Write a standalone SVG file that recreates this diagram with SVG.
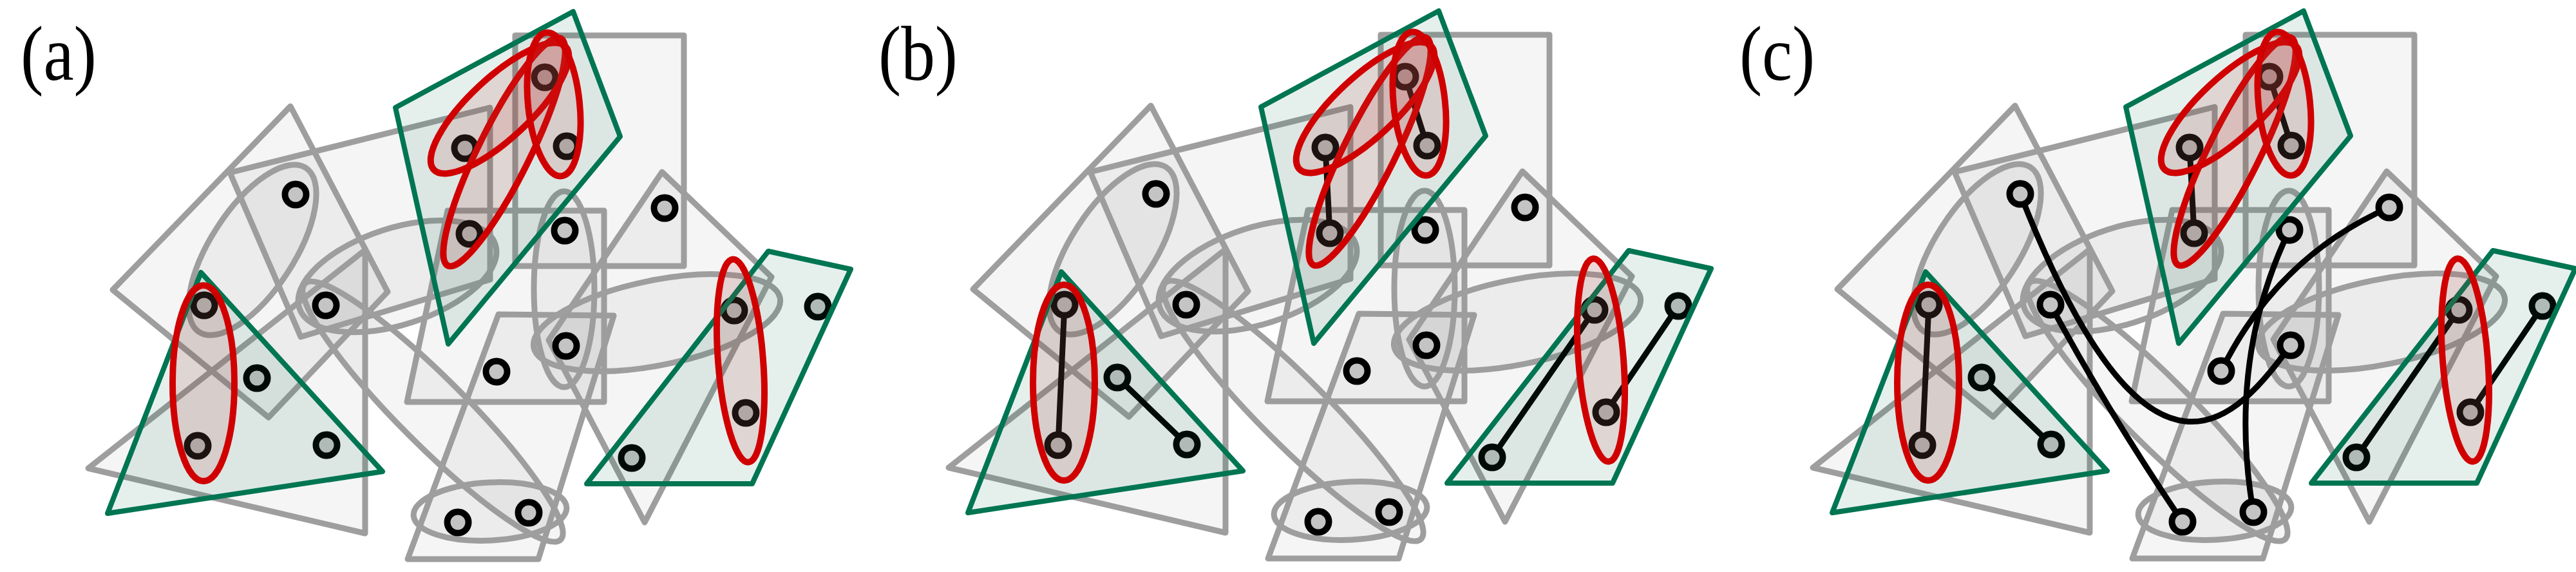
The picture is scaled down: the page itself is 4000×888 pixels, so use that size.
<svg xmlns="http://www.w3.org/2000/svg" width="4000" height="888" viewBox="0 0 4000 888">
<style>
.g{fill:rgb(158,158,158);fill-opacity:0.1;stroke:#9e9e9e;stroke-width:9;stroke-linejoin:round}
.gr{fill:rgb(0,112,80);fill-opacity:0.1;stroke:#007552;stroke-width:8;stroke-linejoin:round}
.r{fill:rgb(190,60,60);fill-opacity:0.15;stroke:#d00000;stroke-width:10}
.nd{fill:#c4c4c4;stroke:#000;stroke-width:10}
.e{fill:none;stroke:#000;stroke-width:9;stroke-linecap:round}
.lbl{font-family:"Liberation Serif","Times New Roman",serif;font-size:120px;fill:#000}
</style>
<defs>
<g id="grayBase">
<polygon class="g" points="451,165 175,450 417,648 602,453"/>
<polygon class="g" points="357,268 761,167 761,434 467,523"/>
<polygon class="g" points="137,727 567,828 567,388"/>
<polygon class="g" points="774,488 953,490 836,868 633,868"/>
<polygon class="g" points="695,327 938,327 938,624 632,624"/>
<polygon class="g" points="1028,267 1198,430 1001,811 852,528"/>
<ellipse class="g" cx="392" cy="388" rx="152" ry="65" transform="rotate(-57 392 388)"/>
<ellipse class="g" cx="617" cy="429" rx="160" ry="75" transform="rotate(-18 617 429)"/>
<ellipse class="g" cx="672" cy="639" rx="281" ry="52" transform="rotate(45 672 639)"/>
<ellipse class="g" cx="876" cy="449" rx="47" ry="152"/>
<ellipse class="g" cx="1020" cy="501" rx="195" ry="66" transform="rotate(-11.4 1020 501)"/>
<ellipse class="g" cx="761" cy="794" rx="119" ry="45" transform="rotate(-3 761 794)"/>
</g>
<rect id="g9" class="g" x="800" y="55" width="262" height="358"/>
<g id="greenBase">
<polygon class="gr" points="312,423 594,732 167,797"/>
<polygon class="gr" points="1193,390 1321,418 1168,751 911,751"/>
</g>
<polygon id="gr1" class="gr" points="614,167 890,18 963,212 696,534"/>
<g id="redBase">
<ellipse class="r" cx="316" cy="595" rx="48" ry="152"/>
<ellipse class="r" cx="1150" cy="560" rx="35" ry="158" transform="rotate(-4.4 1150 560)"/>
</g>
<g id="redTop">
<ellipse class="r" cx="783" cy="236" rx="197" ry="40" transform="rotate(-63.6 783 236)"/>
<ellipse class="r" cx="776" cy="168" rx="140" ry="47" transform="rotate(-43 776 168)"/>
<ellipse class="r" cx="860" cy="162" rx="40" ry="112" transform="rotate(-6 860 162)"/>
</g>
</defs>
<rect width="4000" height="888" fill="#fff"/>

<g id="panel-a">
<text class="lbl" x="32" y="124" textLength="118" lengthAdjust="spacingAndGlyphs">(a)</text>
<use href="#grayBase"/>
<use href="#g9"/>
<g id="connectors-a"></g>
<g id="a-nodes">
<g id="a-n1"><circle class="nd" cx="846" cy="120" r="16.5"/></g>
<g id="a-n2"><circle class="nd" cx="722" cy="230" r="16.5"/></g>
<g id="a-n3"><circle class="nd" cx="880" cy="227" r="16.5"/></g>
<g id="a-n4"><circle class="nd" cx="729" cy="363" r="16.5"/></g>
<g id="a-n5"><circle class="nd" cx="459" cy="302" r="16.5"/></g>
<g id="a-n6"><circle class="nd" cx="877" cy="358" r="16.5"/></g>
<g id="a-n7"><circle class="nd" cx="1032" cy="323" r="16.5"/></g>
<g id="a-n8"><circle class="nd" cx="506" cy="474" r="16.5"/></g>
<g id="a-n9"><circle class="nd" cx="317" cy="474" r="16.5"/></g>
<g id="a-n10"><circle class="nd" cx="399" cy="587" r="16.5"/></g>
<g id="a-n11"><circle class="nd" cx="307" cy="692" r="16.5"/></g>
<g id="a-n12"><circle class="nd" cx="507" cy="691" r="16.5"/></g>
<g id="a-n13"><circle class="nd" cx="879" cy="537" r="16.5"/></g>
<g id="a-n14"><circle class="nd" cx="771" cy="577" r="16.5"/></g>
<g id="a-n15"><circle class="nd" cx="711" cy="811" r="16.5"/></g>
<g id="a-n16"><circle class="nd" cx="821" cy="796" r="16.5"/></g>
<g id="a-n17"><circle class="nd" cx="1140" cy="482" r="16.5"/></g>
<g id="a-n18"><circle class="nd" cx="1270" cy="476" r="16.5"/></g>
<g id="a-n19"><circle class="nd" cx="1158" cy="641" r="16.5"/></g>
<g id="a-n20"><circle class="nd" cx="981" cy="711" r="16.5"/></g>
</g>
<use href="#greenBase"/>
<use href="#gr1"/>
<use href="#redBase"/>
<use href="#redTop"/>
</g>

<g id="panel-b">
<text class="lbl" x="1364" y="124" textLength="123" lengthAdjust="spacingAndGlyphs">(b)</text>
<g transform="translate(1336,-1)">
<use href="#grayBase"/>
<use href="#g9" x="8"/>
<g id="connectors-b">
<line class="e" x1="846" y1="120" x2="880" y2="227"/>
<line class="e" x1="722" y1="230" x2="729" y2="363"/>
<line class="e" x1="317" y1="474" x2="307" y2="692"/>
<line class="e" x1="399" y1="587" x2="507" y2="691"/>
<line class="e" x1="1140" y1="482" x2="981" y2="711"/>
<line class="e" x1="1270" y1="476" x2="1158" y2="641"/>
</g>
<g id="b-nodes">
<g id="b-n1"><circle class="nd" cx="846" cy="120" r="16.5"/></g>
<g id="b-n2"><circle class="nd" cx="722" cy="230" r="16.5"/></g>
<g id="b-n3"><circle class="nd" cx="880" cy="227" r="16.5"/></g>
<g id="b-n4"><circle class="nd" cx="729" cy="363" r="16.5"/></g>
<g id="b-n5"><circle class="nd" cx="459" cy="302" r="16.5"/></g>
<g id="b-n6"><circle class="nd" cx="877" cy="358" r="16.5"/></g>
<g id="b-n7"><circle class="nd" cx="1032" cy="323" r="16.5"/></g>
<g id="b-n8"><circle class="nd" cx="506" cy="474" r="16.5"/></g>
<g id="b-n9"><circle class="nd" cx="317" cy="474" r="16.5"/></g>
<g id="b-n10"><circle class="nd" cx="399" cy="587" r="16.5"/></g>
<g id="b-n11"><circle class="nd" cx="307" cy="692" r="16.5"/></g>
<g id="b-n12"><circle class="nd" cx="507" cy="691" r="16.5"/></g>
<g id="b-n13"><circle class="nd" cx="879" cy="537" r="16.5"/></g>
<g id="b-n14"><circle class="nd" cx="771" cy="577" r="16.5"/></g>
<g id="b-n15"><circle class="nd" cx="711" cy="811" r="16.5"/></g>
<g id="b-n16"><circle class="nd" cx="821" cy="796" r="16.5"/></g>
<g id="b-n17"><circle class="nd" cx="1140" cy="482" r="16.5"/></g>
<g id="b-n18"><circle class="nd" cx="1270" cy="476" r="16.5"/></g>
<g id="b-n19"><circle class="nd" cx="1158" cy="641" r="16.5"/></g>
<g id="b-n20"><circle class="nd" cx="981" cy="711" r="16.5"/></g>
</g>
<use href="#greenBase"/>
<use href="#gr1" x="8"/>
<use href="#redBase"/>
<use href="#redTop" x="8"/>
</g>
</g>

<g id="panel-c">
<text class="lbl" x="2701" y="124" textLength="117" lengthAdjust="spacingAndGlyphs">(c)</text>
<g transform="translate(2678,-1)">
<use href="#grayBase"/>
<use href="#g9" x="9"/>
<g id="connectors-c">
<line class="e" x1="846" y1="120" x2="880" y2="227"/>
<line class="e" x1="722" y1="230" x2="729" y2="363"/>
<line class="e" x1="317" y1="474" x2="307" y2="692"/>
<line class="e" x1="399" y1="587" x2="507" y2="691"/>
<line class="e" x1="1140" y1="482" x2="981" y2="711"/>
<line class="e" x1="1270" y1="476" x2="1158" y2="641"/>
<path class="e" d="M459,302 C662,820 798,647 879,537"/>
<path class="e" d="M506,474 Q595,640 711,811"/>
<path class="e" d="M1032,323 Q858,400 771,577"/>
<path class="e" d="M877,358 Q780,560 821,796"/>
</g>
<g id="c-nodes">
<g id="c-n1"><circle class="nd" cx="846" cy="120" r="16.5"/></g>
<g id="c-n2"><circle class="nd" cx="722" cy="230" r="16.5"/></g>
<g id="c-n3"><circle class="nd" cx="880" cy="227" r="16.5"/></g>
<g id="c-n4"><circle class="nd" cx="729" cy="363" r="16.5"/></g>
<g id="c-n5"><circle class="nd" cx="459" cy="302" r="16.5"/></g>
<g id="c-n6"><circle class="nd" cx="877" cy="358" r="16.5"/></g>
<g id="c-n7"><circle class="nd" cx="1032" cy="323" r="16.5"/></g>
<g id="c-n8"><circle class="nd" cx="506" cy="474" r="16.5"/></g>
<g id="c-n9"><circle class="nd" cx="317" cy="474" r="16.5"/></g>
<g id="c-n10"><circle class="nd" cx="399" cy="587" r="16.5"/></g>
<g id="c-n11"><circle class="nd" cx="307" cy="692" r="16.5"/></g>
<g id="c-n12"><circle class="nd" cx="507" cy="691" r="16.5"/></g>
<g id="c-n13"><circle class="nd" cx="879" cy="537" r="16.5"/></g>
<g id="c-n14"><circle class="nd" cx="771" cy="577" r="16.5"/></g>
<g id="c-n15"><circle class="nd" cx="711" cy="811" r="16.5"/></g>
<g id="c-n16"><circle class="nd" cx="821" cy="796" r="16.5"/></g>
<g id="c-n17"><circle class="nd" cx="1140" cy="482" r="16.5"/></g>
<g id="c-n18"><circle class="nd" cx="1270" cy="476" r="16.5"/></g>
<g id="c-n19"><circle class="nd" cx="1158" cy="641" r="16.5"/></g>
<g id="c-n20"><circle class="nd" cx="981" cy="711" r="16.5"/></g>
</g>
<use href="#greenBase"/>
<use href="#gr1" x="9"/>
<use href="#redBase"/>
<use href="#redTop" x="9"/>
</g>
</g>
</svg>
